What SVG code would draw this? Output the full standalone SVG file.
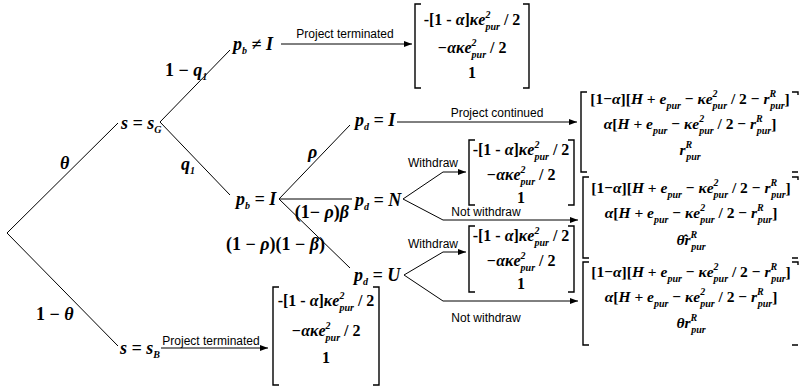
<svg xmlns="http://www.w3.org/2000/svg" width="801" height="387" viewBox="0 0 801 387">
<style>
.m{font-family:"Liberation Serif","Times New Roman",serif;font-weight:bold;font-size:16px;fill:#000}
.r{font-size:15.5px}
.n{font-size:18px}
.i{font-style:italic}
.s{font-size:10px;font-style:italic}
.t{font-family:"Liberation Sans",Arial,sans-serif;font-size:12px;fill:#000}
.ln{stroke:#000;stroke-width:1;fill:none}
.ar{marker-end:url(#ah)}
.br{stroke:#000;stroke-width:1.4;fill:none}
</style>
<defs>
<marker id="ah" markerUnits="userSpaceOnUse" markerWidth="9" markerHeight="7" refX="8" refY="3.5" orient="auto"><path d="M0,0.5 L8,3.5 L0,6.5 z" fill="#000"/></marker>
</defs>

<g id="connectors">
<path class="ln" d="M7,233 L118,123"/>
<path class="ln" d="M7,233 L118,346"/>
<path class="ln" d="M160,122 L230,50"/>
<path class="ln" d="M160,122 L230,195"/>
<path class="ln ar" d="M281,44 L412,44"/>
<path class="ln ar" d="M161,348 L268,348"/>
<path class="ln" d="M279,199 L350,125"/>
<path class="ln" d="M279,199 L352,199"/>
<path class="ln" d="M279,199 L350,268"/>
<path class="ln ar" d="M397,122 L577,122"/>
<path class="ln ar" d="M403,199 L443,172 L466,172"/>
<path class="ln ar" d="M403,199 L443,220 L578,220"/>
<path class="ln ar" d="M404,275 L443,252 L466,252"/>
<path class="ln ar" d="M404,275 L443,301 L578,301"/>
<text class="m n i" x="60" y="169">θ</text>
<text class="m n" x="36" y="320">1 − <tspan class="i">θ</tspan></text>
<text class="m n" x="165" y="76">1 − <tspan class="i">q</tspan><tspan class="s" dy="4">1</tspan></text>
<text class="m n i" x="181" y="170">q<tspan class="s" dy="4">1</tspan></text>
<text class="m n i" x="308" y="158">ρ</text>
<text class="m n" x="349" y="218" text-anchor="end">(1− <tspan class="i">ρ</tspan>)<tspan class="i">β</tspan></text>
<text class="m n" x="226" y="250">(1 − <tspan class="i">ρ</tspan>)(1 − <tspan class="i">β</tspan>)</text>
<text class="t" x="345" y="38" text-anchor="middle">Project terminated</text>
<text class="t" x="211" y="345" text-anchor="middle">Project terminated</text>
<text class="t" x="497" y="117" text-anchor="middle">Project continued</text>
<text class="t" x="408" y="167">Withdraw</text>
<text class="t" x="486" y="216" text-anchor="middle">Not withdraw</text>
<text class="t" x="408" y="248">Withdraw</text>
<text class="t" x="486" y="322" text-anchor="middle">Not withdraw</text>
</g>

<g id="sG"><text class="m n i" x="121" y="129">s = s<tspan class="s" dy="4">G</tspan></text></g>
<g id="sB"><text class="m n i" x="120" y="354">s = s<tspan class="s" dy="4">B</tspan></text></g>
<g id="pbNotI"><text class="m n i" x="233" y="50">p<tspan class="s" dy="4">b</tspan><tspan dy="-4"> ≠ I</tspan></text></g>
<g id="pbI"><text class="m n i" x="236" y="205">p<tspan class="s" dy="4">b</tspan><tspan dy="-4"> = I</tspan></text></g>
<g id="pdI"><text class="m n i" x="355" y="126">p<tspan class="s" dy="4">d</tspan><tspan dy="-4"> = I</tspan></text></g>
<g id="pdN"><text class="m n i" x="355" y="206">p<tspan class="s" dy="4">d</tspan><tspan dy="-4"> = N</tspan></text></g>
<g id="pdU"><text class="m n i" x="354" y="281">p<tspan class="s" dy="4">d</tspan><tspan dy="-4"> = U</tspan></text></g>

<g id="payoff-top">
<path class="br" d="M421,4 H415 V88 H421 M523,4 H529 V88 H523"/>
<text class="m" x="472" y="25" text-anchor="middle">-[1 - <tspan class="i">α</tspan>]<tspan class="i">κe</tspan><tspan class="s" dy="-7">2</tspan><tspan class="s" dx="-5" dy="12">pur</tspan><tspan dy="-5"> / 2</tspan></text>
<text class="m" x="472" y="53" text-anchor="middle"><tspan class="i">−ακe</tspan><tspan class="s" dy="-7">2</tspan><tspan class="s" dx="-5" dy="12">pur</tspan><tspan dy="-5"> / 2</tspan></text>
<text class="m" x="472" y="78" text-anchor="middle">1</text>
</g>

<g id="payoff-withdrawN">
<path class="br" d="M475,140 H469 V205 H475 M568,140 H574 V205 H568"/>
<text class="m" x="521" y="155" text-anchor="middle">-[1 - <tspan class="i">α</tspan>]<tspan class="i">κe</tspan><tspan class="s" dy="-7">2</tspan><tspan class="s" dx="-5" dy="12">pur</tspan><tspan dy="-5"> / 2</tspan></text>
<text class="m" x="521" y="180" text-anchor="middle"><tspan class="i">−ακe</tspan><tspan class="s" dy="-7">2</tspan><tspan class="s" dx="-5" dy="12">pur</tspan><tspan dy="-5"> / 2</tspan></text>
<text class="m" x="521" y="203" text-anchor="middle">1</text>
</g>

<g id="payoff-withdrawU">
<path class="br" d="M475,226 H469 V292 H475 M568,226 H574 V292 H568"/>
<text class="m" x="521" y="241" text-anchor="middle">-[1 - <tspan class="i">α</tspan>]<tspan class="i">κe</tspan><tspan class="s" dy="-7">2</tspan><tspan class="s" dx="-5" dy="12">pur</tspan><tspan dy="-5"> / 2</tspan></text>
<text class="m" x="521" y="266" text-anchor="middle"><tspan class="i">−ακe</tspan><tspan class="s" dy="-7">2</tspan><tspan class="s" dx="-5" dy="12">pur</tspan><tspan dy="-5"> / 2</tspan></text>
<text class="m" x="521" y="289" text-anchor="middle">1</text>
</g>

<g id="payoff-sB">
<path class="br" d="M279,287 H273 V385 H279 M373,287 H379 V385 H373"/>
<text class="m" x="326" y="306" text-anchor="middle">-[1 - <tspan class="i">α</tspan>]<tspan class="i">κe</tspan><tspan class="s" dy="-7">2</tspan><tspan class="s" dx="-5" dy="12">pur</tspan><tspan dy="-5"> / 2</tspan></text>
<text class="m" x="326" y="336" text-anchor="middle"><tspan class="i">−ακe</tspan><tspan class="s" dy="-7">2</tspan><tspan class="s" dx="-5" dy="12">pur</tspan><tspan dy="-5"> / 2</tspan></text>
<text class="m" x="326" y="363" text-anchor="middle">1</text>
</g>

<g id="payoff-continued">
<path class="br" d="M587,92 H581 V172 H587 M792,92 H798 V95 M792,172 H798"/>
<text class="m r" x="690" y="104" text-anchor="middle">[1−<tspan class="i">α</tspan>][<tspan class="i">H</tspan> + <tspan class="i">e</tspan><tspan class="s" dy="5">pur</tspan><tspan dy="-5"> − </tspan><tspan class="i">κe</tspan><tspan class="s" dy="-7">2</tspan><tspan class="s" dx="-5" dy="12">pur</tspan><tspan dy="-5"> / 2 − </tspan><tspan class="i">r</tspan><tspan class="s" dy="-7">R</tspan><tspan class="s" dx="-6" dy="12">pur</tspan><tspan dy="-5">]</tspan></text>
<text class="m r" x="690" y="129" text-anchor="middle"><tspan class="i">α</tspan>[<tspan class="i">H</tspan> + <tspan class="i">e</tspan><tspan class="s" dy="5">pur</tspan><tspan dy="-5"> − </tspan><tspan class="i">κe</tspan><tspan class="s" dy="-7">2</tspan><tspan class="s" dx="-5" dy="12">pur</tspan><tspan dy="-5"> / 2 − </tspan><tspan class="i">r</tspan><tspan class="s" dy="-7">R</tspan><tspan class="s" dx="-6" dy="12">pur</tspan><tspan dy="-5">]</tspan></text>
<text class="m r" x="690" y="155" text-anchor="middle"><tspan class="i">r</tspan><tspan class="s" dy="-7">R</tspan><tspan class="s" dx="-6" dy="12">pur</tspan></text>
</g>

<g id="payoff-notwithdrawN">
<path class="br" d="M589,177 H583 V258 H589 M792,177 H798 V180 M792,258 H798"/>
<text class="m r" x="691" y="193" text-anchor="middle">[1−<tspan class="i">α</tspan>][<tspan class="i">H</tspan> + <tspan class="i">e</tspan><tspan class="s" dy="5">pur</tspan><tspan dy="-5"> − </tspan><tspan class="i">κe</tspan><tspan class="s" dy="-7">2</tspan><tspan class="s" dx="-5" dy="12">pur</tspan><tspan dy="-5"> / 2 − </tspan><tspan class="i">r</tspan><tspan class="s" dy="-7">R</tspan><tspan class="s" dx="-6" dy="12">pur</tspan><tspan dy="-5">]</tspan></text>
<text class="m r" x="691" y="218" text-anchor="middle"><tspan class="i">α</tspan>[<tspan class="i">H</tspan> + <tspan class="i">e</tspan><tspan class="s" dy="5">pur</tspan><tspan dy="-5"> − </tspan><tspan class="i">κe</tspan><tspan class="s" dy="-7">2</tspan><tspan class="s" dx="-5" dy="12">pur</tspan><tspan dy="-5"> / 2 − </tspan><tspan class="i">r</tspan><tspan class="s" dy="-7">R</tspan><tspan class="s" dx="-6" dy="12">pur</tspan><tspan dy="-5">]</tspan></text>
<text class="m r" x="691" y="245" text-anchor="middle"><tspan class="i">θ̂r</tspan><tspan class="s" dy="-7">R</tspan><tspan class="s" dx="-6" dy="12">pur</tspan></text>
</g>

<g id="payoff-notwithdrawU">
<path class="br" d="M589,262 H583 V345 H589 M792,262 H798 V265 M792,345 H798"/>
<text class="m r" x="691" y="277" text-anchor="middle">[1−<tspan class="i">α</tspan>][<tspan class="i">H</tspan> + <tspan class="i">e</tspan><tspan class="s" dy="5">pur</tspan><tspan dy="-5"> − </tspan><tspan class="i">κe</tspan><tspan class="s" dy="-7">2</tspan><tspan class="s" dx="-5" dy="12">pur</tspan><tspan dy="-5"> / 2 − </tspan><tspan class="i">r</tspan><tspan class="s" dy="-7">R</tspan><tspan class="s" dx="-6" dy="12">pur</tspan><tspan dy="-5">]</tspan></text>
<text class="m r" x="691" y="302" text-anchor="middle"><tspan class="i">α</tspan>[<tspan class="i">H</tspan> + <tspan class="i">e</tspan><tspan class="s" dy="5">pur</tspan><tspan dy="-5"> − </tspan><tspan class="i">κe</tspan><tspan class="s" dy="-7">2</tspan><tspan class="s" dx="-5" dy="12">pur</tspan><tspan dy="-5"> / 2 − </tspan><tspan class="i">r</tspan><tspan class="s" dy="-7">R</tspan><tspan class="s" dx="-6" dy="12">pur</tspan><tspan dy="-5">]</tspan></text>
<text class="m r" x="691" y="328" text-anchor="middle"><tspan class="i">θr</tspan><tspan class="s" dy="-7">R</tspan><tspan class="s" dx="-6" dy="12">pur</tspan></text>
</g>
</svg>
